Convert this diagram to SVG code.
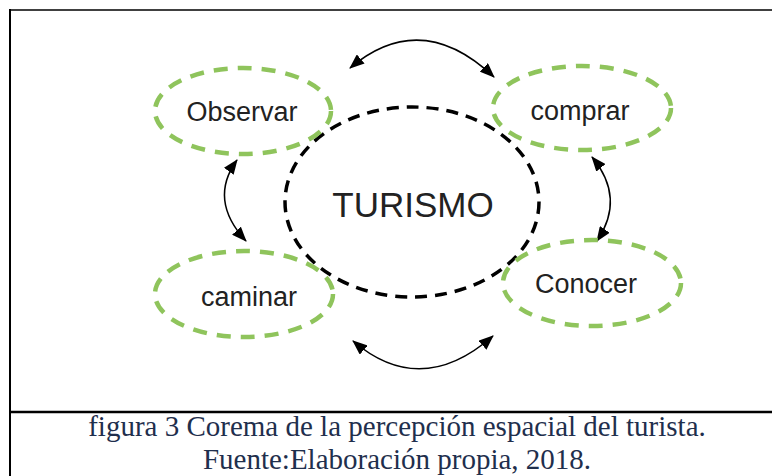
<svg xmlns="http://www.w3.org/2000/svg" width="772" height="476" viewBox="0 0 772 476">
<style>
.node{fill:none;stroke:#8fc45c;stroke-width:4.5;stroke-dasharray:14 10}
.center{fill:none;stroke:#000;stroke-width:3.5;stroke-dasharray:12 8}
.lbl{font-family:"Liberation Sans",Arial,sans-serif;fill:#222;text-anchor:middle}
.conn{fill:none;stroke:#000;stroke-width:1.5;marker-start:url(#ah);marker-end:url(#ah)}
.cap{font-family:"Liberation Serif","Times New Roman",serif;font-size:29px;fill:#1f2f4d;text-anchor:middle}
.frame{stroke:#000;fill:none}
</style>
<defs>
<marker id="ah" viewBox="0 0 15 12" refX="14" refY="6" markerWidth="15" markerHeight="12" markerUnits="userSpaceOnUse" orient="auto-start-reverse">
<path d="M0 0 L15 6 L0 12 Z" fill="#000"/>
</marker>
</defs>
<rect width="772" height="476" fill="#fff"/>
<g id="frame">
<line class="frame" x1="10" y1="10" x2="772" y2="10" stroke-width="1.5"/>
<line class="frame" x1="10" y1="9" x2="10" y2="476" stroke-width="2"/>
<line class="frame" x1="10" y1="412" x2="772" y2="412" stroke-width="2.5"/>
</g>
<g id="connectors">
<path class="conn" d="M350 68 Q421 8 494 77"/>
<path class="conn" d="M237 160 Q208 200 246 241"/>
<path class="conn" d="M592 157 Q626 198 597 241"/>
<path class="conn" d="M353 341 Q421 399 493 336"/>
</g>
<g id="turismo">
<ellipse class="center" cx="412" cy="202" rx="127" ry="95"/>
<text class="lbl" x="413" y="217" font-size="35">TURISMO</text>
</g>
<g id="observar">
<ellipse class="node" cx="243" cy="111" rx="88" ry="43"/>
<text class="lbl" x="242" y="121" font-size="27">Observar</text>
</g>
<g id="comprar">
<ellipse class="node" cx="582" cy="108" rx="89" ry="42"/>
<text class="lbl" x="580" y="120" font-size="27">comprar</text>
</g>
<g id="caminar">
<ellipse class="node" cx="244" cy="294" rx="89" ry="43"/>
<text class="lbl" x="249" y="306" font-size="27">caminar</text>
</g>
<g id="conocer">
<ellipse class="node" cx="592" cy="283" rx="89" ry="43"/>
<text class="lbl" x="586" y="293" font-size="27">Conocer</text>
</g>
<g id="caption">
<text class="cap" x="397" y="436">figura 3 Corema de la percepción espacial del turista.</text>
<text class="cap" x="397" y="469">Fuente:Elaboración propia, 2018.</text>
</g>
</svg>
